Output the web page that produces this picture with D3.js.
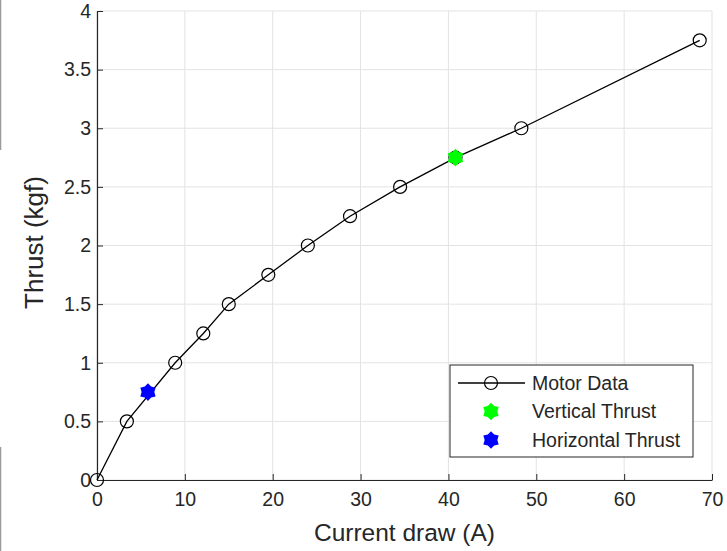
<!DOCTYPE html>
<html lang="en">
<head>
<meta charset="UTF-8">
<title>Thrust vs current draw</title>
<style>
  body { margin: 0; background: #fff; }
  svg text { font-family: "Liberation Sans", Arial, sans-serif; fill: #262626; }
</style>
</head>
<body>
<script src="https://cdn.jsdelivr.net/npm/d3@7"></script>
<script>
// motor test data
const current = [0, 3.4, 8.9, 12.1, 15.0, 19.5, 24.0, 28.8, 34.5, 40.8, 48.3, 68.6];
const thrust = [0, 0.5, 1.0, 1.25, 1.5, 1.75, 2.0, 2.25, 2.5, 2.75, 3.0, 3.75];
const verticalThrust = [40.8, 2.75];
const horizontalThrust = [5.8, 0.75];

const xTicks = [0, 10, 20, 30, 40, 50, 60, 70];
const yTicks = [0, 0.5, 1, 1.5, 2, 2.5, 3, 3.5, 4];
const legendLabels = ["Motor Data", "Vertical Thrust", "Horizontal Thrust"];

const W = 727, H = 551;
const plotL = 97, plotR = 712, plotT = 11, plotB = 480;

const svg = d3.select("body").append("svg")
    .attr("width", W)
    .attr("height", H);

const x = d3.scaleLinear().domain([0, 70]).range([plotL, plotR]);
const y = d3.scaleLinear().domain([0, 4]).range([plotB, plotT]);

// screenshot edge left of the figure
svg.append("line").attr("x1", 0.5).attr("x2", 0.5).attr("y1", 0).attr("y2", 150)
    .attr("stroke", "#9a9a9a").attr("stroke-width", 1.5);
svg.append("line").attr("x1", 0.5).attr("x2", 0.5).attr("y1", 447).attr("y2", H)
    .attr("stroke", "#9a9a9a").attr("stroke-width", 1.5);

// grid
const grid = svg.append("g").attr("stroke", "#e3e3e3").attr("stroke-width", 1);
grid.selectAll(".gx").data(xTicks).join("line")
    .attr("x1", d => x(d)).attr("x2", d => x(d))
    .attr("y1", plotT).attr("y2", plotB);
grid.selectAll(".gy").data(yTicks).join("line")
    .attr("x1", plotL).attr("x2", plotR)
    .attr("y1", d => y(d)).attr("y2", d => y(d));

// axes
const xAxis = svg.append("g")
    .attr("transform", `translate(0,${plotB})`)
    .call(d3.axisBottom(x).tickValues(xTicks).tickSizeInner(-6).tickSizeOuter(0).tickPadding(12));
const yAxis = svg.append("g")
    .attr("transform", `translate(${plotL},0)`)
    .call(d3.axisLeft(y).tickValues(yTicks).tickFormat(d => String(d)).tickSizeInner(-6).tickSizeOuter(0).tickPadding(6));

[xAxis, yAxis].forEach(a => {
    a.select(".domain").attr("stroke", "#262626").attr("stroke-width", 1.2);
    a.selectAll(".tick line").attr("stroke", "#262626");
    a.selectAll(".tick text").style("font-size", "19.5px").attr("fill", "#333");
});

svg.append("text")
    .attr("x", (plotL + plotR) / 2)
    .attr("y", 541)
    .attr("text-anchor", "middle")
    .style("font-size", "24.5px")
    .attr("fill", "#333")
    .text("Current draw (A)");

svg.append("text")
    .attr("transform", `translate(43,${(plotT + plotB) / 2 - 3}) rotate(-90)`)
    .attr("text-anchor", "middle")
    .style("font-size", "26px")
    .attr("fill", "#333")
    .text("Thrust (kgf)");

// hexagram marker like matlab 'h'
const hexagram = {
    draw(ctx, size) {
        const R = Math.sqrt(size), r = R * 0.72;
        for (let i = 0; i < 12; i++) {
            const rad = i % 2 ? r : R;
            const a = -Math.PI / 2 + i * Math.PI / 6;
            if (i === 0) ctx.moveTo(rad * Math.cos(a), rad * Math.sin(a));
            else ctx.lineTo(rad * Math.cos(a), rad * Math.sin(a));
        }
        ctx.closePath();
    }
};

const pts = current.map((c, i) => [c, thrust[i]]);

svg.append("path")
    .datum(pts)
    .attr("fill", "none")
    .attr("stroke", "#000")
    .attr("stroke-width", 1.3)
    .attr("d", d3.line().x(d => x(d[0])).y(d => y(d[1])));

svg.selectAll(".pt").data(pts).join("circle")
    .attr("cx", d => x(d[0]))
    .attr("cy", d => y(d[1]))
    .attr("r", 6.5)
    .attr("fill", "none")
    .attr("stroke", "#000")
    .attr("stroke-width", 1.2);

const star = d3.symbol().type(hexagram).size(78);
svg.append("path")
    .attr("transform", `translate(${x(verticalThrust[0])},${y(verticalThrust[1])})`)
    .attr("d", star)
    .attr("fill", "#00ff00");
svg.append("path")
    .attr("transform", `translate(${x(horizontalThrust[0])},${y(horizontalThrust[1])})`)
    .attr("d", star)
    .attr("fill", "#0000ff");

// legend
const lg = svg.append("g").attr("transform", "translate(450,365)");
lg.append("rect")
    .attr("width", 243).attr("height", 92)
    .attr("fill", "#fff")
    .attr("stroke", "#262626");
const rowY = i => 18 + i * 28.5;
lg.append("line").attr("x1", 8).attr("x2", 75).attr("y1", rowY(0)).attr("y2", rowY(0))
    .attr("stroke", "#000").attr("stroke-width", 1.3);
lg.append("circle").attr("cx", 41).attr("cy", rowY(0)).attr("r", 6.5)
    .attr("fill", "none").attr("stroke", "#000").attr("stroke-width", 1.2);
lg.append("path").attr("transform", `translate(41,${rowY(1)})`).attr("d", star).attr("fill", "#00ff00");
lg.append("path").attr("transform", `translate(41,${rowY(2)})`).attr("d", star).attr("fill", "#0000ff");
lg.selectAll(".lt").data(legendLabels).join("text")
    .attr("x", 82)
    .attr("y", (d, i) => rowY(i))
    .attr("dy", "0.35em")
    .style("font-size", "19.5px")
    .attr("fill", "#333")
    .text(d => d);
</script>
</body>
</html>
